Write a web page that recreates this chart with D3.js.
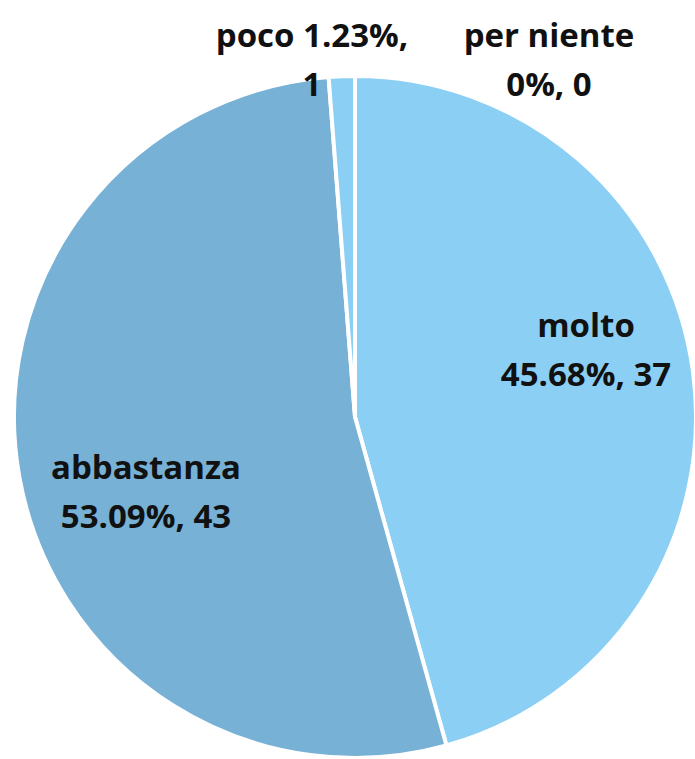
<!DOCTYPE html>
<html>
<head>
<meta charset="utf-8">
<script src="https://cdn.jsdelivr.net/npm/d3@7"></script>
<style>
  body { margin: 0; background: #fff; }
  text.lbl { font-family: "Open Sans", sans-serif; font-weight: 700; font-size: 33px; fill: #111; }
</style>
</head>
<body>
<div id="chart"></div>
<script>
// data
const categories = ["molto", "abbastanza", "poco", "per niente"];
const counts = [37, 43, 1, 0];
const percents = ["45.68%", "53.09%", "1.23%", "0%"];
const colors = ["#8BCFF4", "#77B1D6", "#8BCFF4", "#8BCFF4"];

const width = 695, height = 759;
const cx = 355, cy = 417, radius = 341;

let svg = d3.select("#chart").append("svg")
  .attr("width", width)
  .attr("height", height);

let data = categories.map((c, i) => ({ name: c, value: counts[i], pct: percents[i], color: colors[i] }));

let pie = d3.pie().sort(null).value(d => d.value);
let arc = d3.arc().innerRadius(0).outerRadius(radius);

let g = svg.append("g").attr("transform", `translate(${cx},${cy})`);

g.selectAll("path.slice")
  .data(pie(data))
  .join("path")
  .attr("class", "slice")
  .attr("d", arc)
  .attr("fill", d => d.data.color)
  .attr("stroke", "#fff")
  .attr("stroke-width", 4)
  .attr("stroke-linejoin", "round");

// label placement (line1, line2, anchor point) as in the original chart
let labelPos = {
  "molto":      { lines: ["molto", "45.68%, 37"],      x: 586, y: 337 },
  "abbastanza": { lines: ["abbastanza", "53.09%, 43"], x: 146, y: 479 },
  "poco":       { lines: ["poco 1.23%,", "1"],         x: 312, y: 47 },
  "per niente": { lines: ["per niente", "0%, 0"],      x: 549, y: 47 }
};

data.forEach(d => {
  let p = labelPos[d.name];
  let t = svg.append("text")
    .attr("class", "lbl")
    .attr("text-anchor", "middle")
    .attr("x", p.x)
    .attr("y", p.y);
  t.append("tspan").attr("x", p.x).text(p.lines[0]);
  t.append("tspan").attr("x", p.x).attr("dy", 49).text(p.lines[1]);
});
</script>
</body>
</html>
